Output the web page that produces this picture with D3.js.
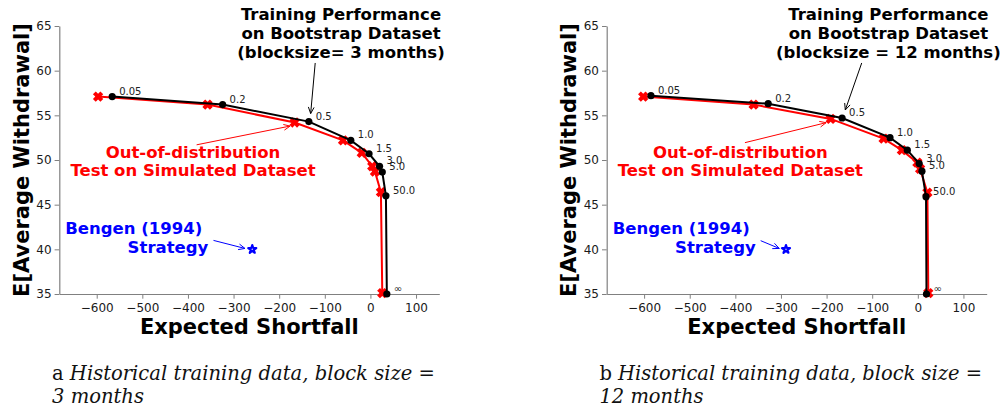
<!DOCTYPE html>
<html>
<head>
<meta charset="utf-8">
<script src="https://cdn.jsdelivr.net/npm/d3@7"></script>
<style>
  body { margin: 0; background: #fff; }
  svg { display: block; }
</style>
</head>
<body>
<div id="chart"></div>
<script>
// risk-aversion labels along the frontier
var pointLabels = ["0.05", "0.2", "0.5", "1.0", "1.5", "3.0", "5.0", "50.0", "\u221e"];

// panel a: block size 3 months
var trainA_es = [-566, -324, -135, -43, -3, 20, 26, 34, 36];
var trainA_ew = [57.1, 56.2, 54.3, 52.2, 50.7, 49.3, 48.65, 46.0, 35.0];
var testA_es = [-597, -357, -166, -60, -19, 4, 10, 23, 26];
var testA_ew = [57.1, 56.2, 54.2, 52.2, 50.8, 49.3, 48.7, 46.4, 35.1];
var bengenA = [-259, 40];

// panel b: block size 12 months
var trainB_es = [-585, -328, -166, -61, -23, 3, 9, 18, 19];
var trainB_ew = [57.2, 56.3, 54.7, 52.5, 51.1, 49.6, 48.75, 45.9, 35.0];
var testB_es = [-602, -360, -191, -75, -35, -1, 5, 21, 23];
var testB_ew = [57.1, 56.2, 54.6, 52.4, 51.1, 49.7, 49.0, 46.35, 35.1];
var bengenB = [-289, 40];

var xTicks = [-600, -500, -400, -300, -200, -100, 0, 100];
var yTicks = [35, 40, 45, 50, 55, 60, 65];

// annotation arrows [from, to] in data units
var arrowsA = {
  train: [[-121, 60.86], [-131, 55.2]],
  test: [[-381, 51.7], [-176, 53.8]],
  bengen: [[-344, 41.0], [-275, 40.1]]
};
var arrowsB = {
  train: [[-123, 60.86], [-159, 55.6]],
  test: [[-379, 51.94], [-201, 54.18]],
  bengen: [[-344.5, 40.97], [-303.7, 40.1]]
};

var W = 1008, H = 410;
var svg = d3.select("#chart").append("svg")
  .attr("width", W)
  .attr("height", H);

var plotL = 59.3, plotR = 439.3, plotT = 26, plotB = 294;
var sans = "DejaVu Sans, sans-serif";

var x = d3.scaleLinear().domain([-682, 151]).range([plotL, plotR]);
var y = d3.scaleLinear().domain([35, 65]).range([plotB, plotT]);

// filled "X" marker like matplotlib
function xMarker(cx, cy) {
  var a = 5.3, w = 2.0, pts = [];
  var base = [[w, w], [w, a], [-w, a], [-w, w], [-a, w], [-a, -w], [-w, -w], [-w, -a], [w, -a], [w, -w], [a, -w], [a, w]];
  var c = Math.SQRT1_2;
  base.forEach(function(p) {
    pts.push([cx + (p[0] - p[1]) * c, cy + (p[0] + p[1]) * c]);
  });
  return "M" + pts.map(function(p) { return p[0].toFixed(2) + "," + p[1].toFixed(2); }).join("L") + "Z";
}

function drawArrow(g, seg, color) {
  var x1 = x(seg[0][0]), y1 = y(seg[0][1]), x2 = x(seg[1][0]), y2 = y(seg[1][1]);
  g.append("line")
    .attr("x1", x1).attr("y1", y1).attr("x2", x2).attr("y2", y2)
    .attr("stroke", color).attr("stroke-width", 1);
  var ang = Math.atan2(y2 - y1, x2 - x1), len = 7, spread = 0.42;
  var p = [
    [x2 - len * Math.cos(ang - spread), y2 - len * Math.sin(ang - spread)],
    [x2, y2],
    [x2 - len * Math.cos(ang + spread), y2 - len * Math.sin(ang + spread)]
  ];
  g.append("path")
    .attr("d", d3.line()(p))
    .attr("fill", "none").attr("stroke", color).attr("stroke-width", 1);
}

function drawPanel(offset, trainX, trainY, testX, testY, bengen, arrows, titleLine3, caption1, caption2) {
  var g = svg.append("g").attr("transform", "translate(" + offset + ",0)");

  var train = trainX.map(function(v, i) { return [v, trainY[i]]; });
  var test = testX.map(function(v, i) { return [v, testY[i]]; });

  // axes
  var xAx = g.append("g")
    .attr("transform", "translate(0," + plotB + ")")
    .call(d3.axisBottom(x).tickValues(xTicks).tickSize(4.7).tickSizeOuter(0).tickPadding(4.5));
  var yAx = g.append("g")
    .attr("transform", "translate(" + plotL + ",0)")
    .call(d3.axisLeft(y).tickValues(yTicks).tickSize(4.7).tickSizeOuter(0).tickPadding(3).tickFormat(d3.format("d")));
  [xAx, yAx].forEach(function(ax) {
    ax.select(".domain").attr("stroke", "#808080").attr("stroke-width", 1.2);
    ax.selectAll(".tick line").attr("stroke", "#808080").attr("stroke-width", 1);
    ax.selectAll(".tick text")
      .attr("fill", "#1a1a1a")
      .style("font-family", sans)
      .style("font-size", "12px");
  });

  var line = d3.line()
    .x(function(d) { return x(d[0]); })
    .y(function(d) { return y(d[1]); });

  // test (red) first, training (black) on top
  g.append("path").datum(test)
    .attr("d", line).attr("fill", "none")
    .attr("stroke", "#ff0000").attr("stroke-width", 2);
  g.selectAll(".xm").data(test).enter().append("path")
    .attr("class", "xm")
    .attr("d", function(d) { return xMarker(x(d[0]), y(d[1])); })
    .attr("fill", "#ff0000");

  g.append("path").datum(train)
    .attr("d", line).attr("fill", "none")
    .attr("stroke", "#000").attr("stroke-width", 2);
  g.selectAll(".dot").data(train).enter().append("circle")
    .attr("class", "dot")
    .attr("cx", function(d) { return x(d[0]); })
    .attr("cy", function(d) { return y(d[1]); })
    .attr("r", 3.6)
    .attr("fill", "#000");

  g.selectAll(".plab").data(train).enter().append("text")
    .attr("class", "plab")
    .attr("x", function(d) { return x(d[0]) + 7; })
    .attr("y", function(d) { return y(d[1]) - 2; })
    .style("font-family", sans)
    .style("font-size", "10px")
    .attr("fill", "#222")
    .text(function(d, i) { return pointLabels[i]; });

  // Bengen star
  g.append("path")
    .attr("d", d3.symbol().type(d3.symbolStar).size(20)())
    .attr("transform", "translate(" + x(bengen[0]) + "," + y(bengen[1]) + ")")
    .attr("fill", "#fff").attr("stroke", "#0000ff").attr("stroke-width", 2.2)
    .attr("stroke-linejoin", "round");

  // annotations
  drawArrow(g, arrows.train, "#000");
  drawArrow(g, arrows.test, "#ff0000");
  drawArrow(g, arrows.bengen, "#0000ff");

  var title = ["Training Performance", "on Bootstrap Dataset", titleLine3];
  g.selectAll(".ttl").data(title).enter().append("text")
    .attr("x", 341)
    .attr("y", function(d, i) { return 20 + i * 19; })
    .attr("text-anchor", "middle")
    .style("font-family", sans).style("font-weight", "bold").style("font-size", "16.5px")
    .attr("fill", "#000")
    .text(function(d) { return d; });

  var ood = ["Out-of-distribution", "Test on Simulated Dataset"];
  g.selectAll(".ood").data(ood).enter().append("text")
    .attr("x", 193)
    .attr("y", function(d, i) { return 158 + i * 17.5; })
    .attr("text-anchor", "middle")
    .style("font-family", sans).style("font-weight", "bold").style("font-size", "16.5px")
    .attr("fill", "#ff0000")
    .text(function(d) { return d; });

  var ben = ["Bengen (1994)", "Strategy"];
  g.selectAll(".ben").data(ben).enter().append("text")
    .attr("x", function(d, i) { return i === 0 ? 202.3 : 208.3; })
    .attr("y", function(d, i) { return 234 + i * 19; })
    .attr("text-anchor", "end")
    .style("font-family", sans).style("font-weight", "bold").style("font-size", "16.5px")
    .attr("fill", "#0000ff")
    .text(function(d) { return d; });

  // axis titles
  g.append("text")
    .attr("x", (plotL + plotR) / 2).attr("y", 334)
    .attr("text-anchor", "middle")
    .style("font-family", sans).style("font-weight", "bold").style("font-size", "21px")
    .text("Expected Shortfall");
  g.append("text")
    .attr("transform", "translate(28.5," + (plotT + plotB) / 2 + ") rotate(-90)")
    .attr("text-anchor", "middle")
    .style("font-family", sans).style("font-weight", "bold").style("font-size", "21px")
    .text("E[Average Withdrawal]");

  // caption
  var serif = "DejaVu Serif, serif";
  var cap = g.append("text")
    .attr("x", 52).attr("y", 380)
    .style("font-family", serif).style("font-size", "18px")
    .attr("fill", "#111");
  cap.append("tspan").text(caption1[0]);
  cap.append("tspan").style("font-style", "italic").text(caption1[1]);
  var len = cap.node().getComputedTextLength();
  var fs = 18 * 383 / len;
  cap.style("font-size", fs + "px");
  g.append("text")
    .attr("x", 52).attr("y", 403)
    .style("font-family", serif).style("font-size", fs + "px")
    .style("font-style", "italic")
    .attr("fill", "#111")
    .text(caption2);
}

drawPanel(0, trainA_es, trainA_ew, testA_es, testA_ew, bengenA, arrowsA,
  "(blocksize= 3 months)", ["a ", "Historical training data, block size ="], "3 months");
drawPanel(547.4, trainB_es, trainB_ew, testB_es, testB_ew, bengenB, arrowsB,
  "(blocksize = 12 months)", ["b ", "Historical training data, block size ="], "12 months");
</script>
</body>
</html>
